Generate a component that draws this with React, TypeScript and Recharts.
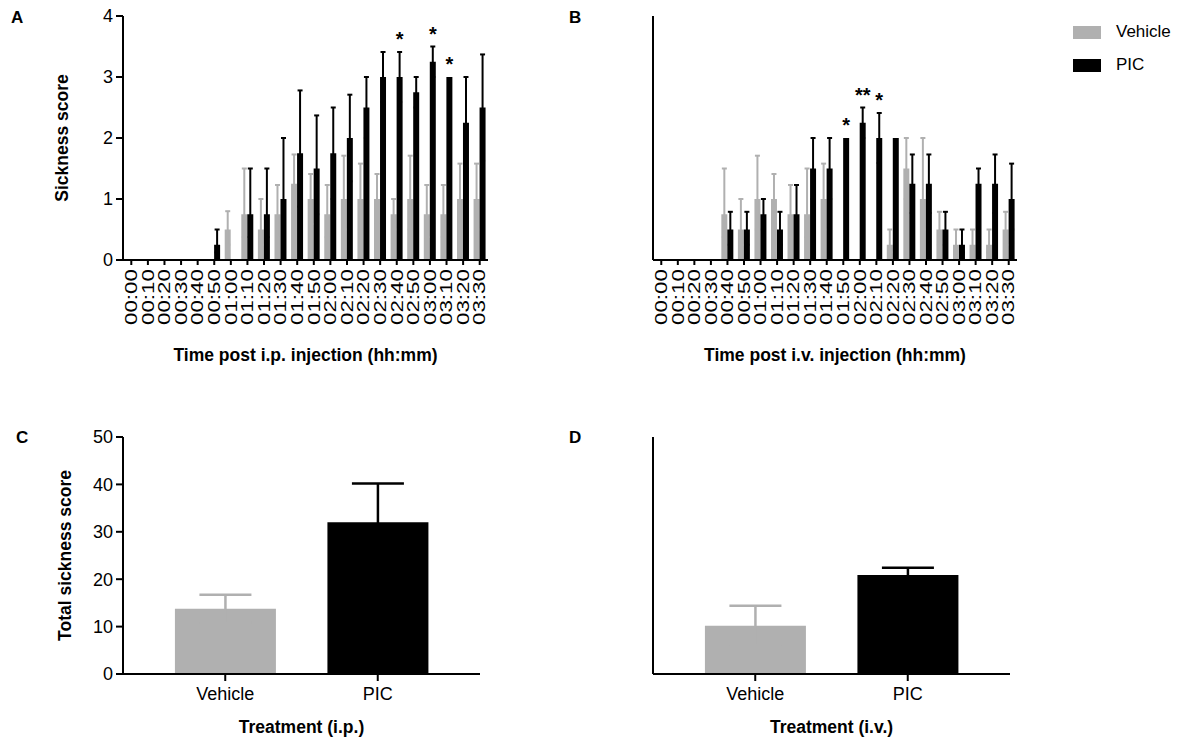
import React from 'react';
import { BarChart, Bar, XAxis, YAxis, ErrorBar, LabelList, Legend, Cell } from 'recharts';

const FONT = '"Liberation Sans", Arial, Helvetica, sans-serif';
const GRAY = '#b0b0b0';
const BLACK = '#000000';

const timeLabels = [
  '00:00', '00:10', '00:20', '00:30', '00:40', '00:50', '01:00', '01:10', '01:20', '01:30', '01:40',
  '01:50', '02:00', '02:10', '02:20', '02:30', '02:40', '02:50', '03:00', '03:10', '03:20', '03:30',
];

// Panel A (i.p.)
const ipVehicleMean = [0, 0, 0, 0, 0, 0, 0.5, 0.75, 0.5, 0.75, 1.25, 1.0, 0.75, 1.0, 1.0, 1.0, 0.75, 1.0, 0.75, 0.75, 1.0, 1.0];
const ipVehicleSem = [0, 0, 0, 0, 0, 0, 0.3, 0.75, 0.5, 0.48, 0.48, 0.41, 0.48, 0.71, 0.58, 0.41, 0.25, 0.71, 0.48, 0.48, 0.58, 0.58];
const ipPicMean = [0, 0, 0, 0, 0, 0.25, 0, 0.75, 0.75, 1.0, 1.75, 1.5, 1.75, 2.0, 2.5, 3.0, 3.0, 2.75, 3.25, 3.0, 2.25, 2.5];
const ipPicSem = [0, 0, 0, 0, 0, 0.25, 0, 0.75, 0.75, 1.0, 1.03, 0.87, 0.75, 0.71, 0.5, 0.41, 0.41, 0.25, 0.25, 0, 0.75, 0.87];
const ipSig = ['', '', '', '', '', '', '', '', '', '', '', '', '', '', '', '', '*', '', '*', '*', '', ''];

// Panel B (i.v.)
const ivVehicleMean = [0, 0, 0, 0, 0.75, 0.5, 1.0, 1.0, 0.75, 0.75, 1.0, 0, 0, 0, 0.25, 1.5, 1.0, 0.5, 0.25, 0.25, 0.25, 0.5];
const ivVehicleSem = [0, 0, 0, 0, 0.75, 0.5, 0.71, 0.41, 0.48, 0.75, 0.58, 0, 0, 0, 0.25, 0.5, 1.0, 0.29, 0.25, 0.25, 0.25, 0.29];
const ivPicMean = [0, 0, 0, 0, 0.5, 0.5, 0.75, 0.5, 0.75, 1.5, 1.5, 2.0, 2.25, 2.0, 2.0, 1.25, 1.25, 0.5, 0.25, 1.25, 1.25, 1.0];
const ivPicSem = [0, 0, 0, 0, 0.29, 0.29, 0.25, 0.29, 0.48, 0.5, 0.5, 0, 0.25, 0.41, 0, 0.48, 0.48, 0.29, 0.25, 0.25, 0.48, 0.58];
const ivSig = ['', '', '', '', '', '', '', '', '', '', '', '*', '**', '*', '', '', '', '', '', '', '', ''];

// Panels C and D (totals)
const treatments = ['Vehicle', 'PIC'];
const treatmentColors = [GRAY, BLACK];
const ipTotalMean = [13.75, 32.0];
const ipTotalSem = [2.95, 8.2];
const ivTotalMean = [10.2, 20.9];
const ivTotalSem = [4.2, 1.5];

const seriesNames = ['Vehicle', 'PIC'];

const timeTicks = [0, 1, 2, 3, 4];
const totalTicks = [0, 10, 20, 30, 40, 50];

// only the upper half of each error bar is visible (GraphPad style): the lower
// half is tucked inside the bar, where it is hidden by the bar's own colour
function upperErr(mean: number, sem: number) {
  if (!sem) return null;
  return [Math.min(sem, mean * 0.5), sem];
}

function timeRows(vm: number[], vs: number[], pm: number[], ps: number[], sig: string[]) {
  return timeLabels.map((t, i) => ({
    t,
    v: vm[i],
    vErr: upperErr(vm[i], vs[i]),
    p: pm[i],
    pErr: upperErr(pm[i], ps[i]),
    star: sig[i] ? `${sig[i]}|${pm[i]}|${ps[i]}` : '',
  }));
}

function totalRows(m: number[], s: number[]) {
  return treatments.map((name, i) => ({
    name,
    mean: m[i],
    vehErr: i === 0 ? upperErr(m[i], s[i]) : null,
    picErr: i === 1 ? upperErr(m[i], s[i]) : null,
  }));
}

const ipRows = timeRows(ipVehicleMean, ipVehicleSem, ipPicMean, ipPicSem, ipSig);
const ivRows = timeRows(ivVehicleMean, ivVehicleSem, ivPicMean, ivPicSem, ivSig);
const ipTotals = totalRows(ipTotalMean, ipTotalSem);
const ivTotals = totalRows(ivTotalMean, ivTotalSem);

const axisLine = { stroke: BLACK, strokeWidth: 2 };
const tickText = { fontSize: 18, fill: BLACK, fontFamily: FONT };
const titleStyle = { fontSize: 17.5, fontWeight: 'bold', fill: BLACK, fontFamily: FONT };

const RotTick = (props: any) => {
  const { x, y, payload } = props;
  return (
    <text
      x={0}
      y={0}
      transform={`translate(${x}, ${y}) rotate(-90) scale(1.4, 1)`}
      textAnchor="end"
      dy="0.36em"
      fontSize={16}
      fontFamily={FONT}
      fill={BLACK}
    >
      {payload.value}
    </text>
  );
};

const StarLabel = (props: any) => {
  const raw = props.value;
  if (!raw || typeof raw !== 'string') return null;
  const [sig, meanStr, semStr] = raw.split('|');
  const mean = Number(meanStr);
  const sem = Number(semStr) || 0;
  const vb = props.viewBox || props;
  const top = Math.min(vb.y, vb.y + vb.height);
  const h = Math.abs(vb.height);
  const pxPer = mean ? h / mean : 0;
  const errTop = top - sem * pxPer;
  return (
    <text
      x={vb.x + vb.width / 2}
      y={errTop - 6}
      textAnchor="middle"
      fontSize={20}
      fontWeight="bold"
      fontFamily={FONT}
      fill={BLACK}
    >
      {sig}
    </text>
  );
};

const LegendBox = (props: any) => {
  const payload = [...(props.payload || [])].sort(
    (a: any, b: any) => seriesNames.indexOf(a.value) - seriesNames.indexOf(b.value),
  );
  return (
    <div style={{ fontFamily: FONT, fontSize: 17 }}>
      {payload.map((e: any, i: number) => (
        <div key={i} style={{ display: 'flex', alignItems: 'center', height: 20, marginBottom: 13 }}>
          <div style={{ width: 28, height: 13, background: e.color, marginRight: 15 }} />
          <span style={{ color: BLACK }}>{e.value}</span>
        </div>
      ))}
    </div>
  );
};

function TimePanel(props: { rows: any[]; title: string; showY: boolean; legend?: boolean }) {
  const { rows, title, showY, legend } = props;
  const width = showY ? 560 : 617;
  const margin = showY
    ? { top: 16, right: 72, bottom: 30, left: 1 }
    : { top: 16, right: 160, bottom: 30, left: 73 };
  return (
    <BarChart width={width} height={400} data={rows} margin={margin} barGap={0} barCategoryGap="13%">
      <XAxis
        dataKey="t"
        interval={0}
        height={110}
        tick={<RotTick />}
        tickSize={5}
        tickMargin={4}
        axisLine={axisLine}
        tickLine={axisLine}
        label={{ value: title, position: 'insideBottom', offset: 9, style: titleStyle }}
      />
      <YAxis
        domain={[0, 4]}
        ticks={timeTicks}
        interval={0}
        width={showY ? 122 : 20}
        tickSize={7}
        tickMargin={3}
        axisLine={axisLine}
        tickLine={axisLine}
        tick={showY ? tickText : false}
        label={showY ? { value: 'Sickness score', angle: -90, position: 'center', style: titleStyle } : undefined}
      />
      {legend ? (
        <Legend
          layout="vertical"
          align="center"
          verticalAlign="middle"
          content={<LegendBox />}
          wrapperStyle={{ position: 'absolute', left: 513, top: 22, width: 110 }}
        />
      ) : null}
      <Bar dataKey="v" name={seriesNames[0]} fill={GRAY} isAnimationActive={false}>
        <ErrorBar dataKey="vErr" direction="y" width={2.5} stroke={GRAY} strokeWidth={2} isAnimationActive={false} />
      </Bar>
      <Bar dataKey="p" name={seriesNames[1]} fill={BLACK} isAnimationActive={false}>
        <ErrorBar dataKey="pErr" direction="y" width={2.5} stroke={BLACK} strokeWidth={2} isAnimationActive={false} />
        <LabelList dataKey="star" content={<StarLabel />} />
      </Bar>
    </BarChart>
  );
}

function TotalPanel(props: { rows: any[]; title: string; showY: boolean }) {
  const { rows, title, showY } = props;
  const width = showY ? 560 : 617;
  const margin = showY
    ? { top: 37, right: 80, bottom: 0, left: 7 }
    : { top: 37, right: 167, bottom: 0, left: 73 };
  return (
    <BarChart width={width} height={340} data={rows} margin={margin} barCategoryGap="17%">
      <XAxis
        dataKey="name"
        interval={0}
        height={66}
        padding={{ left: 26, right: 26 }}
        tickSize={7}
        tickMargin={6}
        axisLine={axisLine}
        tickLine={axisLine}
        tick={tickText}
        label={{ value: title, position: 'insideBottom', offset: 7, style: titleStyle }}
      />
      <YAxis
        domain={[0, 50]}
        ticks={totalTicks}
        interval={0}
        width={showY ? 116 : 20}
        tickSize={7}
        tickMargin={3}
        axisLine={axisLine}
        tickLine={axisLine}
        tick={showY ? tickText : false}
        label={showY ? { value: 'Total sickness score', angle: -90, position: 'center', style: titleStyle } : undefined}
      />
      <Bar dataKey="mean" isAnimationActive={false}>
        {rows.map((r, i) => (
          <Cell key={r.name} fill={treatmentColors[i]} />
        ))}
        <ErrorBar dataKey="vehErr" direction="y" width={26} stroke={GRAY} strokeWidth={2.5} isAnimationActive={false} />
        <ErrorBar dataKey="picErr" direction="y" width={26} stroke={BLACK} strokeWidth={2.5} isAnimationActive={false} />
      </Bar>
    </BarChart>
  );
}

const panelLetter: React.CSSProperties = {
  position: 'absolute',
  fontFamily: FONT,
  fontWeight: 'bold',
  fontSize: 17,
  color: BLACK,
  lineHeight: '20px',
};

export default function App() {
  return (
    <div style={{ position: 'absolute', left: 0, top: 0, width: 1177, height: 740, background: '#fff', overflow: 'hidden' }}>
      <div style={{ position: 'absolute', left: 0, top: 0 }}>
        <TimePanel rows={ipRows} title="Time post i.p. injection (hh:mm)" showY />
      </div>
      <div style={{ position: 'absolute', left: 560, top: 0 }}>
        <TimePanel rows={ivRows} title="Time post i.v. injection (hh:mm)" showY={false} legend />
      </div>
      <div style={{ position: 'absolute', left: 0, top: 400 }}>
        <TotalPanel rows={ipTotals} title="Treatment (i.p.)" showY />
      </div>
      <div style={{ position: 'absolute', left: 560, top: 400 }}>
        <TotalPanel rows={ivTotals} title="Treatment (i.v.)" showY={false} />
      </div>
      <div style={{ ...panelLetter, left: 11, top: 8 }}>A</div>
      <div style={{ ...panelLetter, left: 569, top: 8 }}>B</div>
      <div style={{ ...panelLetter, left: 16, top: 428 }}>C</div>
      <div style={{ ...panelLetter, left: 569, top: 428 }}>D</div>
    </div>
  );
}
